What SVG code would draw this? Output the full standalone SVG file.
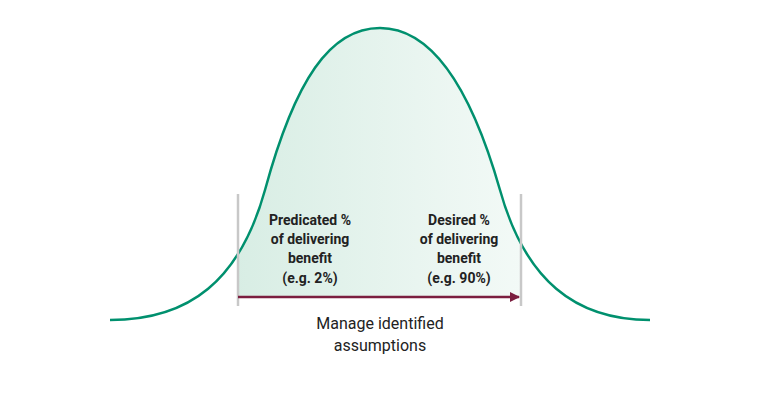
<svg xmlns="http://www.w3.org/2000/svg" width="768" height="400" viewBox="0 0 768 400">
<style>
.lbl{font-family:Roboto,"Liberation Sans",sans-serif;font-weight:bold;font-size:14px;fill:#222;text-anchor:middle}
.cap{font-family:Roboto,"Liberation Sans",sans-serif;font-size:16px;fill:#222;text-anchor:middle}
.grey{stroke:#c8c8c8;stroke-width:2.5}
</style>
<defs>
<linearGradient id="g" x1="0" x2="1" y1="0" y2="0">
<stop offset="0" stop-color="#cce8dc"/><stop offset="1" stop-color="#ffffff"/>
</linearGradient>
<clipPath id="c"><rect x="238" y="0" width="283" height="297"/></clipPath>
<marker id="a" viewBox="0 0 10 10" refX="9" refY="5" markerWidth="4" markerHeight="4" orient="auto"><path d="M0,0L10,5L0,10z" fill="#7b1e3f"/></marker>
</defs>
<path clip-path="url(#c)" fill="url(#g)" d="M110,320 C190,320 240,280 265,190 C295,80 330,28 380,28 C430,28 470,85 500,190 C525,280 575,320 650,320 Z"/>
<g id="curve"><path fill="none" stroke="#00906e" stroke-width="2.5" d="M110,320 C190,320 240,280 265,190 C295,80 330,28 380,28 C430,28 470,85 500,190 C525,280 575,320 650,320"/></g>
<g id="bounds"><line class="grey" x1="238" y1="194" x2="238" y2="306"/><line class="grey" x1="521" y1="194" x2="521" y2="306"/></g>
<g id="connectors"><line x1="238" y1="297" x2="519" y2="297" stroke="#7b1e3f" stroke-width="2.5" marker-end="url(#a)"/></g>
<g id="left"><text class="lbl" x="310" y="225">Predicated %</text><text class="lbl" x="310" y="244">of delivering</text><text class="lbl" x="310" y="263">benefit</text><text class="lbl" x="310" y="283">(e.g. 2%)</text></g>
<g id="right"><text class="lbl" x="459" y="225">Desired %</text><text class="lbl" x="459" y="244">of delivering</text><text class="lbl" x="459" y="263">benefit</text><text class="lbl" x="459" y="283">(e.g. 90%)</text></g>
<g id="caption"><text class="cap" x="380" y="329">Manage identified</text><text class="cap" x="380" y="351">assumptions</text></g>
</svg>
